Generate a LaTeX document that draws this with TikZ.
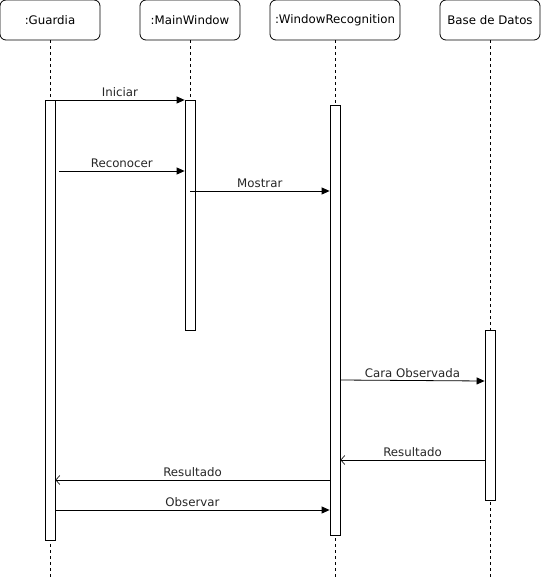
\documentclass[tikz,border=0pt]{standalone}
\usepackage{fontspec}
\setmainfont{DejaVu Sans}
\usetikzlibrary{arrows.meta,positioning,calc}

\tikzset{
  head/.style={draw, line width=0.8pt, rounded corners=6pt, fill=white,
    minimum width=100pt, minimum height=40pt, inner sep=0pt,
    font=\fontsize{11.8}{13}\selectfont},
  life/.style={line width=0.8pt, dash pattern=on 3pt off 3pt},
  bar/.style={draw, line width=0.8pt, fill=white, minimum width=10pt,
    inner sep=0pt, anchor=north},
  msg/.style={line width=0.8pt, -{Triangle[length=8pt,width=7pt]}},
  reply/.style={line width=0.8pt, -{Straight Barb[length=4pt,width=9pt,line width=0.6pt]}},
  lbl/.style={midway, above, inner sep=2.5pt, text=black!85,
    font=\fontsize{11.8}{13}\selectfont}
}

\begin{document}
\begin{tikzpicture}[x=1pt, y=-1pt]
  \useasboundingbox (0,0) rectangle (541,581);

  % heads
  \node[head] (gHead) at (50,20) {:Guardia};
  \node[head] (mHead) at (190,20) {:MainWindow};
  \node[head, minimum width=130pt] (wHead) at (335,20) {:WindowRecognition};
  \node[head] (dHead) at (490,20) {Base de Datos};

  % lifelines
  \draw[life] (gHead.south) -- (50,578);
  \draw[life] (mHead.south) -- (190,330);
  \draw[life] (wHead.south) -- (335,578);
  \draw[life] (dHead.south) -- (490,578);

  % activation bars
  \node[bar, minimum height=440pt] (gBar) at (50,100) {};
  \node[bar, minimum height=230pt] (mBar) at (190,100) {};
  \node[bar, minimum height=430pt] (wBar) at (335,105) {};
  \node[bar, minimum height=170pt] (dBar) at (490,330) {};

  % messages
  \draw[msg] (gBar.east |- 0,100) -- (mBar.west |- 0,100)
    node[lbl] {Iniciar};
  \draw[msg] (59,171) -- (mBar.west |- 0,171)
    node[lbl] {Reconocer};
  \draw[msg] (190,191) -- (wBar.west |- 0,191)
    node[lbl] {Mostrar};
  \draw[msg] (wBar.east |- 0,380) -- (dBar.west |- 0,381)
    node[lbl] {Cara Observada};
  \draw[reply] (dBar.west |- 0,460) -- (wBar.east |- 0,460)
    node[lbl] {Resultado};
  \draw[reply] (wBar.west |- 0,480) -- (gBar.east |- 0,480)
    node[lbl] {Resultado};
  \draw[msg] (gBar.east |- 0,510) -- (wBar.west |- 0,510)
    node[lbl] {Observar};
\end{tikzpicture}
\end{document}
